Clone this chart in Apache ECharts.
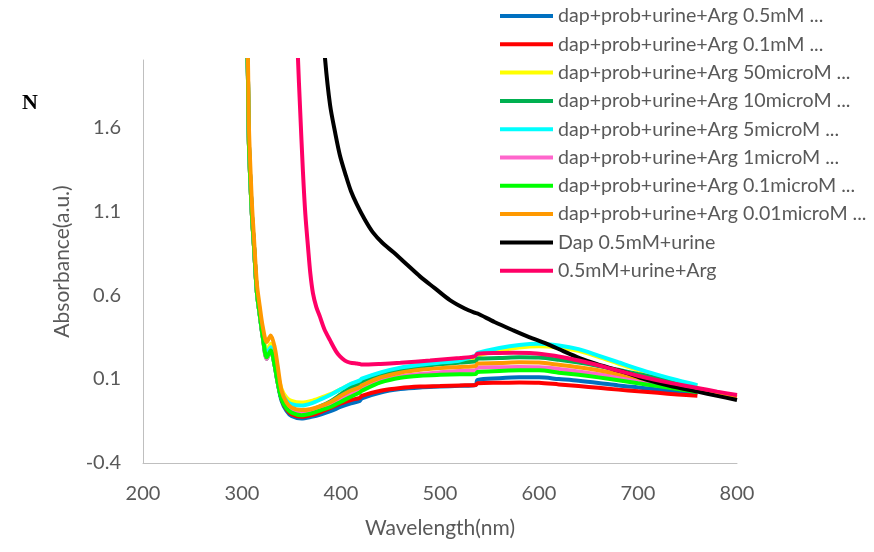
<!DOCTYPE html>
<html>
<head>
<meta charset="utf-8">
<script src="https://cdn.jsdelivr.net/npm/echarts@6/dist/echarts.min.js"></script>
<style>
html, body { margin: 0; padding: 0; background: #fff; }
#chart { width: 874px; height: 552px; }
</style>
</head>
<body>
<div id="chart"></div>
<script>
// wavelength grid shared by the dap+prob+urine+Arg series (nm)
const wl = [304, 306, 307, 310, 312, 315, 318, 321, 325, 329, 333, 336, 340, 345, 350, 360, 370, 380, 390, 400, 410, 419, 421, 440, 460, 480, 500, 520, 536, 538, 560, 580, 600, 620, 640, 660, 680, 700, 720, 740, 760, 780, 800];

const arg05mM = [2.4, 1.9, 1.5, 1.08, 0.9, 0.62, 0.48, 0.35, 0.24, 0.28, 0.18, 0.08, -0.03, -0.09, -0.12, -0.135, -0.125, -0.11, -0.09, -0.065, -0.045, -0.03, -0.015, 0.02, 0.04, 0.05, 0.055, 0.06, 0.065, 0.095, 0.105, 0.11, 0.11, 0.1, 0.09, 0.077, 0.062, 0.05, 0.038, 0.027, 0.017];
const arg01mM = [2.4, 1.9, 1.5, 1.08, 0.9, 0.62, 0.48, 0.36, 0.25, 0.29, 0.19, 0.09, -0.02, -0.08, -0.11, -0.125, -0.115, -0.095, -0.07, -0.045, -0.025, -0.012, 0.0, 0.03, 0.047, 0.055, 0.058, 0.062, 0.065, 0.075, 0.078, 0.08, 0.078, 0.068, 0.058, 0.048, 0.037, 0.027, 0.018, 0.008, 0.0];
const arg50uM = [2.4, 1.9, 1.5, 1.08, 0.9, 0.62, 0.48, 0.37, 0.27, 0.31, 0.22, 0.13, 0.04, -0.01, -0.03, -0.04, -0.03, -0.01, 0.012, 0.04, 0.07, 0.088, 0.098, 0.135, 0.163, 0.18, 0.193, 0.203, 0.225, 0.24, 0.27, 0.288, 0.295, 0.287, 0.268, 0.232, 0.192, 0.153, 0.12, 0.088, 0.06];
const arg10uM = [2.4, 1.9, 1.5, 1.08, 0.9, 0.62, 0.48, 0.35, 0.22, 0.27, 0.18, 0.08, -0.02, -0.07, -0.09, -0.1, -0.085, -0.06, -0.03, 0.01, 0.05, 0.074, 0.084, 0.13, 0.157, 0.175, 0.188, 0.198, 0.205, 0.222, 0.225, 0.23, 0.228, 0.215, 0.198, 0.178, 0.155, 0.13, 0.105, 0.07, 0.035];
const arg5uM = [2.4, 1.9, 1.5, 1.08, 0.9, 0.62, 0.48, 0.36, 0.25, 0.29, 0.2, 0.11, 0.02, -0.03, -0.05, -0.058, -0.045, -0.02, 0.008, 0.04, 0.072, 0.092, 0.102, 0.14, 0.168, 0.185, 0.198, 0.21, 0.24, 0.255, 0.285, 0.303, 0.31, 0.3, 0.278, 0.24, 0.2, 0.16, 0.125, 0.093, 0.064];
const arg1uM = [2.4, 1.9, 1.5, 1.08, 0.9, 0.62, 0.48, 0.35, 0.22, 0.27, 0.18, 0.08, -0.01, -0.06, -0.085, -0.097, -0.088, -0.07, -0.048, -0.015, 0.015, 0.035, 0.045, 0.09, 0.115, 0.13, 0.14, 0.148, 0.152, 0.168, 0.17, 0.172, 0.17, 0.16, 0.145, 0.128, 0.11, 0.09, 0.07, 0.05, 0.03];
const arg01uM = [2.4, 1.9, 1.5, 1.08, 0.9, 0.62, 0.48, 0.35, 0.23, 0.27, 0.18, 0.08, -0.02, -0.075, -0.1, -0.115, -0.105, -0.085, -0.065, -0.035, -0.005, 0.02, 0.03, 0.08, 0.108, 0.12, 0.125, 0.128, 0.13, 0.142, 0.148, 0.152, 0.152, 0.138, 0.125, 0.11, 0.093, 0.075, 0.058, 0.04, 0.023];
const arg001uM = [2.4, 2.0, 1.6, 1.15, 0.95, 0.67, 0.53, 0.41, 0.32, 0.36, 0.29, 0.18, 0.03, -0.04, -0.07, -0.085, -0.078, -0.06, -0.035, 0.0, 0.032, 0.052, 0.062, 0.11, 0.138, 0.155, 0.165, 0.172, 0.178, 0.193, 0.195, 0.2, 0.198, 0.185, 0.17, 0.152, 0.13, 0.108, 0.085, 0.06, 0.036, 0.015, -0.005];

// Dap 0.5mM+urine
const wlDap = [382, 384, 389, 394, 399, 405, 410, 416, 424, 432, 442, 453, 466, 480, 495, 510, 525, 535, 538, 555, 574, 590, 608, 625, 641, 658, 675, 692, 709, 735, 760, 780, 800];
const dapUrine = [2.2, 2.0, 1.73, 1.57, 1.43, 1.31, 1.22, 1.14, 1.05, 0.975, 0.91, 0.855, 0.785, 0.71, 0.64, 0.57, 0.52, 0.495, 0.49, 0.44, 0.39, 0.35, 0.31, 0.265, 0.225, 0.19, 0.16, 0.13, 0.095, 0.055, 0.025, 0.0, -0.025];

// 0.5mM+urine+Arg
const wlMix = [355, 356.6, 358.6, 361.6, 364, 366.7, 369, 371.7, 375, 378.8, 383, 389, 395, 399, 404, 409, 416, 419, 421, 440, 460, 490, 520, 535, 538, 560, 574, 591, 608, 624, 640, 658, 675, 700, 730, 760, 780, 800];
const mixUrineArg = [2.3, 2.0, 1.72, 1.33, 1.08, 0.885, 0.73, 0.61, 0.53, 0.47, 0.4, 0.33, 0.265, 0.235, 0.21, 0.198, 0.192, 0.19, 0.186, 0.19, 0.197, 0.21, 0.225, 0.235, 0.25, 0.255, 0.256, 0.255, 0.245, 0.23, 0.21, 0.185, 0.158, 0.12, 0.08, 0.047, 0.025, 0.005];

const names = [
    'dap+prob+urine+Arg 0.5mM ...',
    'dap+prob+urine+Arg 0.1mM ...',
    'dap+prob+urine+Arg 50microM ...',
    'dap+prob+urine+Arg 10microM ...',
    'dap+prob+urine+Arg 5microM ...',
    'dap+prob+urine+Arg 1microM ...',
    'dap+prob+urine+Arg 0.1microM ...',
    'dap+prob+urine+Arg 0.01microM ...',
    'Dap 0.5mM+urine',
    '0.5mM+urine+Arg'
];
const colors = ['#0070c0', '#ff0000', '#ffff00', '#00b050', '#00ffff', '#ff66cc', '#00ff00', '#ff9900', '#000000', '#ff0066'];

const yTicks = { min: -0.4, max: 2.0, interval: 0.5 };
const xTicks = { min: 200, max: 800, interval: 100 };

const font = 'Lato';
const textColor = '#595959';

const pairs = function (xs, ys) {
    let res = [];
    for (let i = 0; i < ys.length; i++) {
        res.push([xs[i], ys[i]]);
    }
    return res;
}

const seriesData = [
    pairs(wl, arg05mM),
    pairs(wl, arg01mM),
    pairs(wl, arg50uM),
    pairs(wl, arg10uM),
    pairs(wl, arg5uM),
    pairs(wl, arg1uM),
    pairs(wl, arg01uM),
    pairs(wl, arg001uM),
    pairs(wlDap, dapUrine),
    pairs(wlMix, mixUrineArg)
];

const chart = echarts.init(document.getElementById('chart'));
chart.setOption({
    animation: false,
    color: colors,
    textStyle: { fontFamily: font },
    grid: { left: 143, right: 137, top: 60, bottom: 89 },
    legend: {
        orient: 'vertical',
        left: 495,
        top: 1,
        icon: 'rect',
        itemWidth: 53,
        itemHeight: 4,
        itemGap: 8.3,
        textStyle: { color: textColor, fontSize: 19.6, fontFamily: font, lineHeight: 16 },
        data: names
    },
    xAxis: {
        type: 'value',
        min: xTicks.min,
        max: xTicks.max,
        interval: xTicks.interval,
        name: 'Wavelength(nm)',
        nameLocation: 'middle',
        nameGap: 55,
        nameTextStyle: { color: textColor, fontSize: 21, fontFamily: font },
        axisLine: { onZero: false, lineStyle: { color: '#bfbfbf', width: 1 } },
        axisTick: { show: false },
        splitLine: { show: false },
        axisLabel: { color: textColor, fontSize: 20, margin: 21 }
    },
    yAxis: {
        type: 'value',
        min: yTicks.min,
        max: yTicks.max,
        interval: yTicks.interval,
        name: 'Absorbance(a.u.)',
        nameLocation: 'middle',
        nameGap: 70,
        nameTextStyle: { color: textColor, fontSize: 21, fontFamily: font },
        axisLine: { show: true, onZero: false, lineStyle: { color: '#bfbfbf', width: 1 } },
        axisTick: { show: false },
        splitLine: { show: false },
        axisLabel: { color: textColor, fontSize: 20, margin: 22, showMaxLabel: false }
    },
    graphic: [{
        type: 'text',
        left: 22,
        top: 92,
        style: { text: 'N', font: 'bold 22px "Liberation Serif"', fill: '#000' }
    }],
    series: seriesData.map(function (d, i) {
        return {
            type: 'line',
            name: names[i],
            data: d,
            showSymbol: false,
            smooth: 0.3,
            clip: true,
            lineStyle: { width: 4, color: colors[i] },
            itemStyle: { color: colors[i] }
        };
    })
});
</script>
</body>
</html>
